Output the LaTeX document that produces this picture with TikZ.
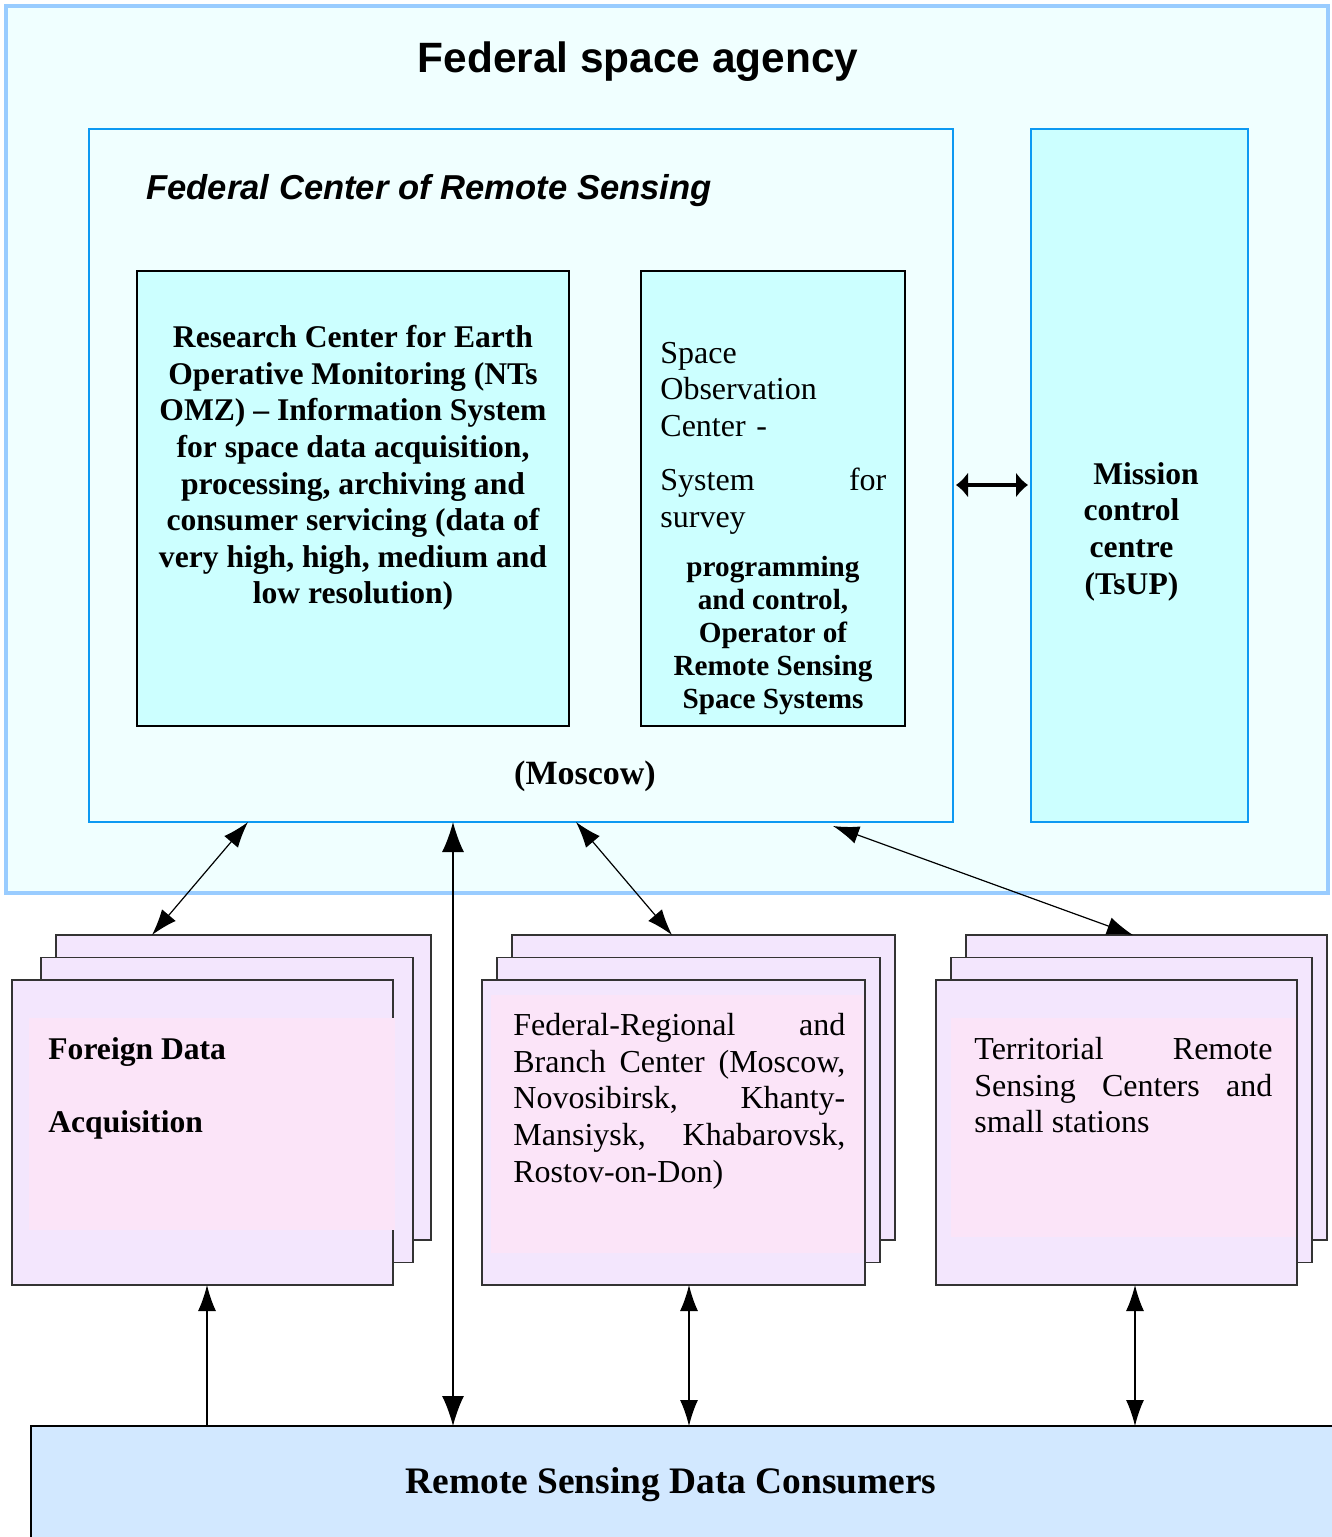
\documentclass[tikz,border=0pt]{standalone}
\usepackage{fontspec}
\setmainfont{Liberation Serif}
\newfontfamily\agencyfont{Liberation Sans}
\usetikzlibrary{arrows.meta,positioning,calc}
\usepackage{xcolor}
\definecolor{AgencyLine}{HTML}{99CCFF}
\definecolor{AgencyFill}{HTML}{F0FFFF}
\definecolor{CenterLine}{HTML}{0D99F2}
\definecolor{CyanFill}{HTML}{CCFFFF}
\definecolor{Lilac}{HTML}{F3E6FD}
\definecolor{Pink}{HTML}{FBE4F8}
\definecolor{ConsumerFill}{HTML}{D2E8FF}

\begin{document}
\begin{tikzpicture}[x=0.5pt,y=-0.5pt,
    box/.style={rectangle,inner sep=0pt,outer sep=0pt},
    agencybox/.style={box,draw=AgencyLine,fill=AgencyFill,line width=2pt},
    centerbox/.style={box,draw=CenterLine,fill=AgencyFill,line width=1.2pt},
    unitbox/.style={box,draw=black,fill=CyanFill,line width=0.9pt},
    sheet/.style={box,draw=black!80,fill=Lilac,line width=0.8pt,minimum width=#1,minimum height=152.5pt},
    link/.style={{Latex[length=13pt,width=9pt]}-{Latex[length=13pt,width=9pt]},line width=0.6pt},
    biglink/.style={{Latex[length=6pt,width=13pt]}-{Latex[length=6pt,width=13pt]},line width=2pt},
    txt/.style={inner sep=0pt,font=\fontsize{16}{18.3}\selectfont},
    btxt/.style={inner sep=0pt,font=\fontsize{15.8}{18.3}\selectfont\bfseries}]
  \useasboundingbox (0,0) rectangle (1332,1537);
  \clip (0,0) rectangle (1332,1537);

  \node[agencybox,minimum width=661pt,minimum height=443.5pt] (agency) at (667,449.5) {};
  \node[anchor=base,inner sep=0pt,font=\agencyfont\bfseries\fontsize{21.2}{25}\selectfont]
    (agencytitle) at (638,72) {Federal space agency};

  \node[centerbox,minimum width=432pt,minimum height=346.5pt] (fcrs) at (521,475.5) {};
  \node[anchor=base west,inner sep=0pt,font=\agencyfont\bfseries\itshape\fontsize{17.3}{20}\selectfont]
    (fcrstitle) at (146,199) {Federal Center of Remote Sensing};
  \node[centerbox,fill=CyanFill,minimum width=108.5pt,minimum height=346.5pt] (tsup) at (1139.5,475.5) {};

  \node[unitbox,minimum width=216pt,minimum height=227.5pt] (omz) at (353,498.5) {};
  \node[btxt,align=center,anchor=north] (omztext) at (353,325)
    {Research Center for Earth\\Operative Monitoring (NTs\\OMZ) -- Information System\\for space data acquisition,\\
     processing, archiving and\\consumer servicing (data of\\very high, high, medium and\\low resolution)};

  \node[unitbox,minimum width=132pt,minimum height=227.5pt] (soc) at (773,498.5) {};
  \node[txt,align=left,text width=113pt,anchor=north west] (soctext) at (660,341.5)
    {Space\\Observation\\Center -\\[9pt]System\hfill for\\survey};
  \node[inner sep=0pt,align=center,anchor=north,font=\fontsize{14.6}{16.5}\selectfont\bfseries] (socrole) at (773,556)
    {programming\\and control,\\Operator of\\Remote Sensing\\Space Systems};

  \node[anchor=base,inner sep=0pt,font=\fontsize{17}{20}\selectfont\bfseries] (moscow) at (585,784) {(Moscow)};
  \node[btxt,align=center,anchor=north] (tsuptext) at (1131.5,462)
    {\hspace*{14.5pt}Mission\\control\\centre\\(TsUP)};

  % foreign data acquisition
  \node[sheet=187.5pt] (fdaback) at (243.5,1087.5) {};
  \node[sheet=186pt] (fdamid) at (227,1110) {};
  \node[sheet=190.5pt] (fda) at (202.5,1132.5) {};
  \fill[Pink] (29,1018) rectangle (395,1230);
  \node[btxt,align=left,anchor=north west] (fdatext) at (48,1037) {Foreign Data\\[18.2pt]Acquisition};

  % federal-regional centers
  \node[sheet=191.5pt] (frbback) at (703.5,1087.5) {};
  \node[sheet=191.5pt] (frbmid) at (688.5,1110) {};
  \node[sheet=191.5pt] (frb) at (673.5,1132.5) {};
  \fill[Pink] (491,995) rectangle (864,1253);
  \node[txt,align=justify,text width=166pt,anchor=north west] (frbtext) at (513,1013)
    {Federal-Regional and\linebreak Branch Center (Moscow,\linebreak Novosibirsk, Khanty-\linebreak Mansiysk, Khabarovsk,\linebreak Rostov-on-Don)};

  % territorial centers
  \node[sheet=180.5pt] (trsback) at (1146.5,1087.5) {};
  \node[sheet=180.5pt] (trsmid) at (1131.5,1110) {};
  \node[sheet=180.5pt] (trs) at (1116.5,1132.5) {};
  \fill[Pink] (951,1018) rectangle (1296,1237);
  \node[txt,align=justify,text width=149pt,anchor=north west] (trstext) at (974,1037)
    {Territorial Remote\linebreak Sensing Centers and\linebreak small stations};

  \node[box,draw=black,fill=ConsumerFill,line width=0.8pt,minimum width=654.5pt,minimum height=59.5pt]
    (consumers) at (685.5,1485.5) {};
  \node[anchor=base,inner sep=0pt,font=\fontsize{18.7}{22}\selectfont\bfseries] (consumerstext) at (671,1493)
    {Remote Sensing Data Consumers};

  \draw[biglink] ($(fcrs.east)+(3,9.5)$) -- ($(tsup.west)+(-3,9.5)$);
  \draw[link] ($(fcrs.south west)+(159,0)$) -- ($(fdaback.north west)+(96,0)$);
  \draw[link,{Latex[length=15pt,width=11pt]}-{Latex[length=15pt,width=11pt]}]
    ($(fcrs.south west)+(364,0)$) -- ($(consumers.north west)+(422,0)$);
  \draw[link] ($(fcrs.south west)+(487,0)$) -- ($(frbback.north west)+(160,0)$);
  \draw[link] ($(fcrs.south west)+(744,4)$) -- ($(trsback.north west)+(167,0)$);
  \draw[link,-{Latex[length=13pt,width=9pt]}] ($(consumers.north west)+(176,0)$) -- ($(fda.south west)+(195,0)$);
  \draw[link] ($(frb.south west)+(207,0)$) -- ($(consumers.north west)+(658,0)$);
  \draw[link] ($(trs.south west)+(199,0)$) -- ($(consumers.north west)+(1104,0)$);
\end{tikzpicture}
\end{document}
